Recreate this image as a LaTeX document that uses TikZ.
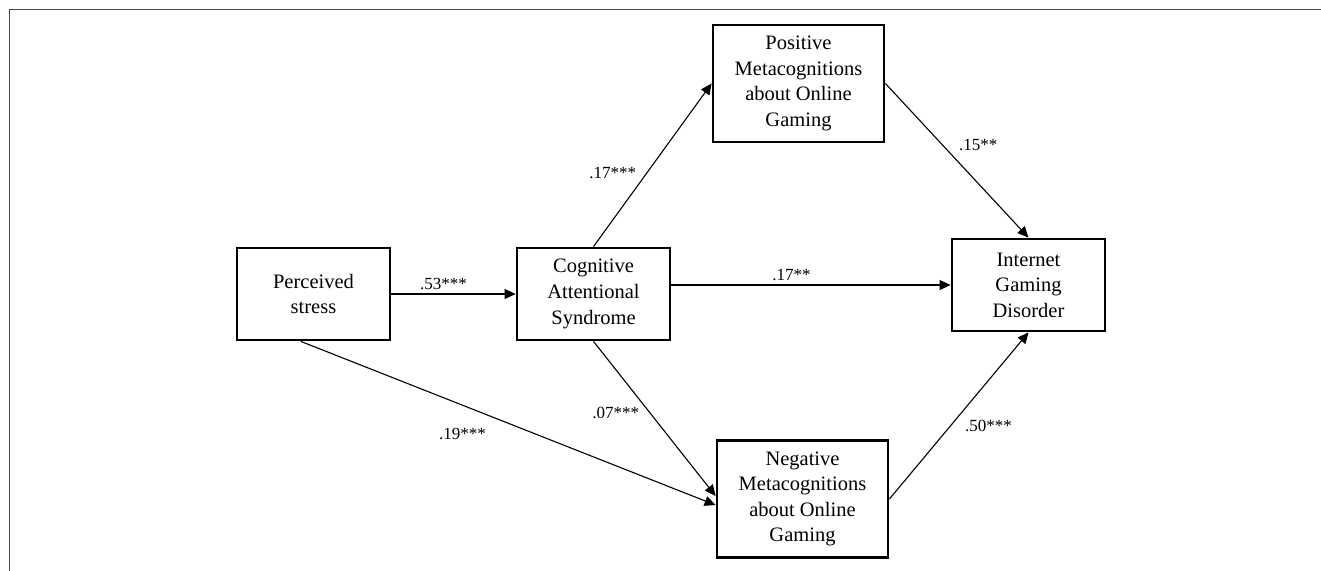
\documentclass[tikz,border=0pt]{standalone}
\usepackage{fontspec}
\setmainfont{Liberation Serif}
\usetikzlibrary{arrows.meta,positioning}
\tikzset{>={Triangle[length=5.5pt,width=5pt]},
  var/.style={draw, line width=1.4pt, align=center, inner sep=0pt,
    minimum width=76.5pt, minimum height=46pt,
    font=\fontsize{10.25}{12.8}\selectfont},
  wide/.style={minimum width=85.5pt, minimum height=58.5pt},
  effect/.style={->, line width=0.55pt},
  coef/.style={font=\fontsize{8.5}{10}\selectfont, inner sep=1pt}}

\begin{document}
\begin{tikzpicture}[x=0.5pt, y=-0.5pt]
  \useasboundingbox (0,0) rectangle (1321,571);
  \draw[black!70, line width=0.5pt] (9,571) -- (9,9.5) -- (1321,9.5);
  \node[var] (stress) at (313.5,294) {Perceived\\stress};
  \node[var] (cas) at (593.5,294) {Cognitive\\Attentional\\Syndrome};
  \node[var, wide] (posmeta) at (798.5,83.5)
    {Positive\\Metacognitions\\about Online\\Gaming};
  \node[var, wide] (negmeta) at (802.5,499)
    {Negative\\Metacognitions\\about Online\\Gaming};
  \node[var] (igd) at (1028.5,285) {Internet\\Gaming\\Disorder};
  \draw[effect] (stress.east) -- (cas.west)
    node[coef, pos=0.42, above=1pt] {.53***};
  \draw[effect] (cas.east |- igd.west) -- (igd.west)
    node[coef, pos=0.43, above=1pt] {.17**};
  \draw[effect] (cas.north) -- (posmeta.west)
    node[coef, pos=0.45, left=4pt] {.17***};
  \draw[effect] (posmeta.east) -- (igd.north)
    node[coef, pos=0.4, right=7pt] {.15**};
  \draw[effect] (cas.south) -- (negmeta.178)
    node[coef, pos=0.46, left=4pt] {.07***};
  \draw[effect] (stress.255) -- (negmeta.184)
    node[coef, pos=0.39, below=10pt] {.19***};
  \draw[effect] (negmeta.east) -- (igd.south)
    node[coef, pos=0.44, right=6pt] {.50***};
\end{tikzpicture}
\end{document}
